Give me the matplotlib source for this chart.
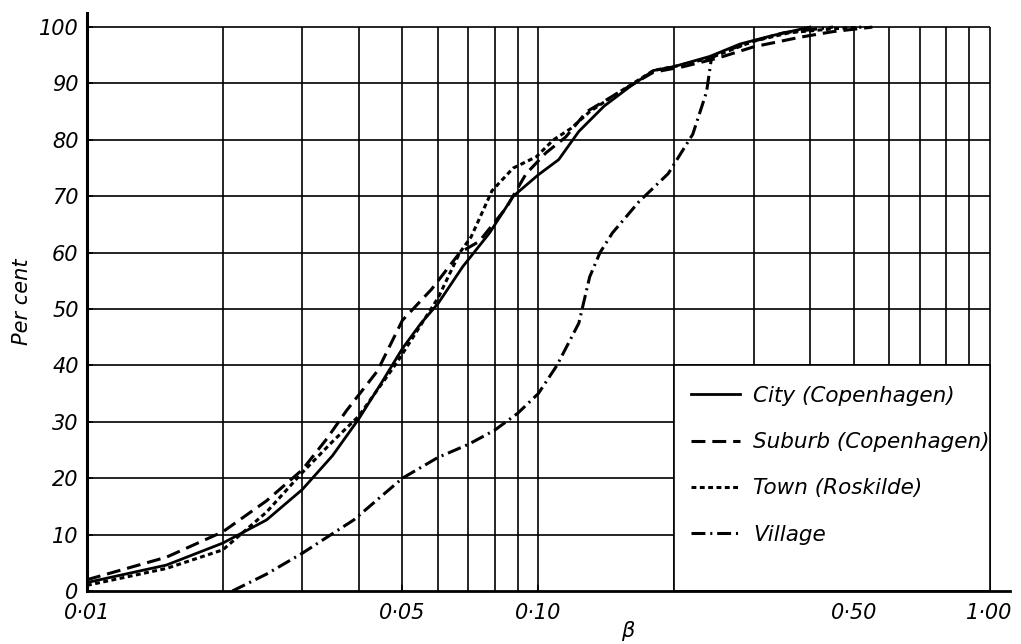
import numpy as np
import matplotlib
matplotlib.use("Agg")
import matplotlib.pyplot as plt
from matplotlib.patches import Rectangle

plt.rcParams["font.family"] = ["DejaVu Sans"]
plt.rcParams["font.style"] = "italic"
plt.rcParams["lines.scale_dashes"] = False

# cumulative distributions of beta, per cent
city_x = [0.01, 0.015, 0.02, 0.025, 0.03, 0.035, 0.04, 0.045, 0.05, 0.055, 0.06, 0.068,
          0.078, 0.088, 0.1, 0.111, 0.123, 0.14, 0.16, 0.18, 0.2, 0.24, 0.28, 0.33, 0.4]
city_y = [1.5, 4.6, 8.5, 12.6, 18, 24, 30.5, 37, 43, 47.5, 51, 57.5,
          63.5, 70, 73.8, 76.5, 81.5, 86, 89.5, 92.3, 93, 94.8, 97, 98.5, 100]

suburb_x = [0.01, 0.015, 0.02, 0.025, 0.03, 0.034, 0.0376, 0.044, 0.05, 0.058, 0.067, 0.074,
            0.085, 0.094, 0.104, 0.115, 0.128, 0.15, 0.18, 0.21, 0.25, 0.3, 0.38, 0.45, 0.55]
suburb_y = [2, 6, 10.5, 16, 21.5, 27, 32, 39, 48, 53.5, 60, 62,
            68, 74, 77.7, 80.5, 85, 88.3, 92, 93, 94.5, 96.5, 98.2, 99.2, 100]

town_x = [0.01, 0.015, 0.02, 0.025, 0.03, 0.035, 0.04, 0.0486, 0.06, 0.067, 0.071, 0.079,
          0.088, 0.099, 0.108, 0.118, 0.13, 0.15, 0.18, 0.2, 0.24, 0.3, 0.36, 0.45, 0.52]
town_y = [1, 4, 7.3, 14, 21, 26.5, 31, 40.5, 52, 60, 62.8, 71,
          75, 77, 80, 82, 85, 88.3, 92.3, 93, 94.5, 97.5, 99, 99.7, 100]

village_x = [0.021, 0.025, 0.03, 0.039, 0.05, 0.06, 0.07, 0.08, 0.09, 0.1, 0.11, 0.123,
             0.13, 0.137, 0.146, 0.167, 0.194, 0.22, 0.236, 0.242, 0.25, 0.3, 0.35, 0.45]
village_y = [0, 3, 6.7, 12.6, 20, 23.7, 26, 28.5, 31.5, 35, 40, 47.5,
             55.7, 60, 63.5, 69, 74, 81, 88.5, 94.5, 95.3, 97.5, 99, 100]

labels = ["City (Copenhagen)", "Suburb (Copenhagen)", "Town (Roskilde)", "Village"]

x_ticks = [0.01, 0.05, 0.10, 0.50, 1.00]
x_tick_labels = ["0·01", "0·05", "0·10", "0·50", "1·00"]
y_ticks = np.arange(0, 101, 10)

fig = plt.figure(figsize=(10.21, 6.44), dpi=100)
ax = fig.add_axes([0.0852, 0.0823, 0.904, 0.8975])
ax.set_xscale("log")
ax.set_xlim(0.01, 1.11)
ax.set_ylim(0, 102.5)

# log paper grid, stops at beta = 1 and 100 %
grid_x = np.concatenate([np.arange(1, 10) * 0.01, np.arange(1, 11) * 0.1])
ax.vlines(grid_x, 0, 100, color="black", lw=1.2, zorder=1)
ax.hlines(y_ticks[1:], 0.01, 1.0, color="black", lw=1.2, zorder=1)

# blank panel for the key
ax.add_patch(Rectangle((0.2, 0), 0.8, 40, facecolor="white", edgecolor="black",
                       lw=1.2, zorder=2))

lw = 2.2
ax.plot(city_x, city_y, color="black", lw=2.0, label=labels[0], zorder=3)
ax.plot(suburb_x, suburb_y, color="black", lw=lw, dashes=(10, 5), label=labels[1], zorder=3)
ax.plot(town_x, town_y, color="black", lw=lw, dashes=(3.5, 2.5), label=labels[2], zorder=3)
ax.plot(village_x, village_y, color="black", lw=lw, dashes=(10, 3.5, 1.5, 3.5),
        label=labels[3], zorder=3)

for side in ["top", "right"]:
    ax.spines[side].set_visible(False)
ax.spines["left"].set_linewidth(2.2)
ax.spines["bottom"].set_linewidth(2.0)

ax.set_xticks(x_ticks)
ax.set_xticklabels(x_tick_labels)
ax.xaxis.set_minor_locator(matplotlib.ticker.NullLocator())
ax.set_yticks(y_ticks)
ax.tick_params(axis="both", labelsize=15, direction="in", length=4, width=1.2)
ax.tick_params(axis="x", pad=9)
ax.tick_params(axis="y", pad=6)

ax.set_ylabel("Per cent", fontsize=15)
ax.yaxis.set_label_coords(-0.06, 0.5)
ax.set_xlabel("β", fontsize=15)
ax.xaxis.set_label_coords(0.586, -0.052)

leg = ax.legend(loc="upper left", bbox_to_anchor=(0.654, 0.355), frameon=False,
                fontsize=15.5, handlelength=2.3, handletextpad=0.6, labelspacing=1.22,
                borderpad=0, borderaxespad=0)
leg.set_zorder(5)

fig.savefig("out.png", dpi=100, facecolor="white")
